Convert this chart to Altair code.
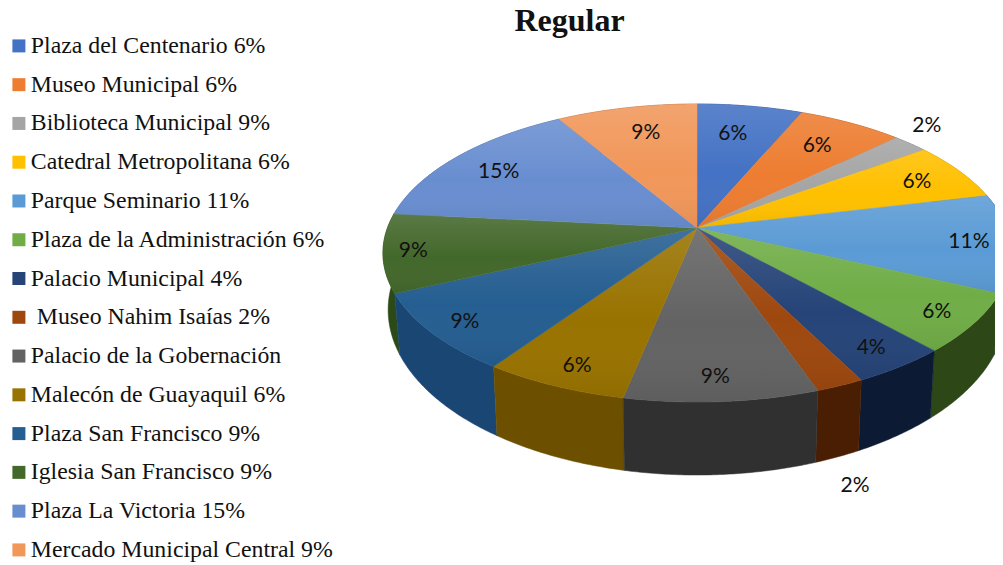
import math
import altair as alt

names = ["Plaza del Centenario 6%", "Museo Municipal 6%", "Biblioteca Municipal 9%", "Catedral Metropolitana 6%",
         "Parque Seminario 11%", "Plaza de la Administración 6%", "Palacio Municipal 4%", "\u200b\u00a0Museo Nahim Isaías 2%",
         "Palacio de la Gobernación", "Malecón de Guayaquil 6%", "Plaza San Francisco 9%", "Iglesia San Francisco 9%",
         "Plaza La Victoria 15%", "Mercado Municipal Central 9%"]
values = [3, 3, 1, 3, 5, 3, 2, 1, 4, 3, 4, 4, 7, 4]
top_colors = ["#4472C4", "#ED7D31", "#A5A5A5", "#FFC000", "#5B9BD5", "#70AD47", "#264478",
              "#9E480E", "#636363", "#997300", "#255E91", "#43682B", "#698ED0", "#F1975A"]
wall_colors = ["#2a4a80", "#8a4a1c", "#666666", "#9a7400", "#1f3f5e", "#2d4716", "#0c1a34",
               "#4a1e02", "#303030", "#6c5000", "#1a4674", "#2c4a18", "#3f5a88", "#8f5a34"]
label_angle = [10, 33.8, 46.2, 65, 95.4, 126.5, 145.6, 163.9, 176.7, 202.4, 229.7, 260.6, 302, 346]
label_radius = [.75, .773, 1.168, .83, .87, .879, .875, 1.419, .873, .878, .888, .906, .81, .769]

# perspective view of the disc (page pixels)
CX, CY, R, B, K = 697, 228, 309.6, 144.8, 0.168
OFF = 8


def view(deg, r=1.0):
    a = math.radians(deg)
    u, v = r * math.sin(a), r * math.cos(a)
    w = 1 + K * v
    return CX + R * u / w, CY - B * v / w


def lower(p):
    x, y = p
    return CX + (x - CX) * (1 - 0.0165), y + 61 + (y - 292) * 0.109


tops, walls = [], []
cum = 0
total = sum(values)
labels = []
for i, val in enumerate(values):
    a0, a1 = cum / total * 360, (cum + val) / total * 360
    cum += val
    n = max(2, int((a1 - a0) * 2))
    arc = [view(a0 + (a1 - a0) * j / n) for j in range(n + 1)]
    ring = [[CX, CY]] + [list(p) for p in arc] + [[CX, CY]]
    tops.append({"type": "Feature", "properties": {"name": names[i]},
                 "geometry": {"type": "Polygon", "coordinates": [ring]}})
    wall = [list(p) for p in arc] + [list(lower(p)) for p in reversed(arc)]
    wall.append(wall[0])
    mid = math.radians((a0 + a1) / 2)
    walls.append((math.cos(mid), {"type": "Feature", "properties": {"color": wall_colors[i]},
                                  "geometry": {"type": "Polygon", "coordinates": [wall]}}))
    lx, ly = view(label_angle[i], label_radius[i])
    labels.append({"lon": lx, "lat": ly, "text": f"{round(val / total * 100)}%"})
walls = [w for _, w in sorted(walls, key=lambda t: -t[0])]

proj = dict(type="identity", scale=1, translate=[-OFF, -OFF])

wall_layer = alt.Chart(alt.Data(values=walls)).mark_geoshape(clip=True, strokeWidth=0.5).encode(
    fill=alt.Fill("properties.color:N", scale=None),
    stroke=alt.Stroke("properties.color:N", scale=None),
).project(**proj)

top_layer = alt.Chart(alt.Data(values=tops)).mark_geoshape(clip=True, strokeWidth=0.5).encode(
    fill=alt.Fill("properties.name:N",
                  scale=alt.Scale(domain=names, range=top_colors),
                  legend=alt.Legend(title=None, orient="none", legendX=-1, legendY=26,
                                    symbolType="square", symbolSize=169, symbolStrokeWidth=0,
                                    labelFont="Liberation Serif", labelFontSize=23.8, labelColor="#111111",
                                    labelLimit=400, labelOffset=0, rowPadding=13.77, padding=0)),
    stroke=alt.Stroke("properties.name:N", scale=alt.Scale(domain=names, range=top_colors), legend=None),
).project(**proj)

shade = {"gradient": "linear", "x1": 0, "y1": 0, "x2": 0, "y2": 1,
         "stops": [{"offset": 0, "color": "rgba(255,255,255,0.12)"},
                   {"offset": 0.55, "color": "rgba(255,255,255,0)"},
                   {"offset": 1, "color": "rgba(0,0,0,0.06)"}]}
shade_layer = alt.Chart(alt.Data(values=tops)).mark_geoshape(clip=True, fill=shade, strokeWidth=0).project(**proj)

text_layer = alt.Chart(alt.Data(values=labels)).mark_text(
    font="Lato", fontSize=21, color="#111111", align="center", baseline="middle", dy=1.5, clip=True
).encode(longitude="lon:Q", latitude="lat:Q", text="text:N").project(**proj)

chart = alt.layer(wall_layer, top_layer, shade_layer, text_layer).properties(
    width=987, height=557, padding=0, autosize=alt.AutoSizeParams(type="none"),
    title=alt.TitleParams("Regular", font="Liberation Serif", fontSize=32, fontWeight="bold", color="#111111",
                          anchor="middle", dx=68, offset=-55, baseline="alphabetic"),
).configure_view(stroke=None)

chart.save("out.html", embed_options={"renderer": "svg", "actions": False})
